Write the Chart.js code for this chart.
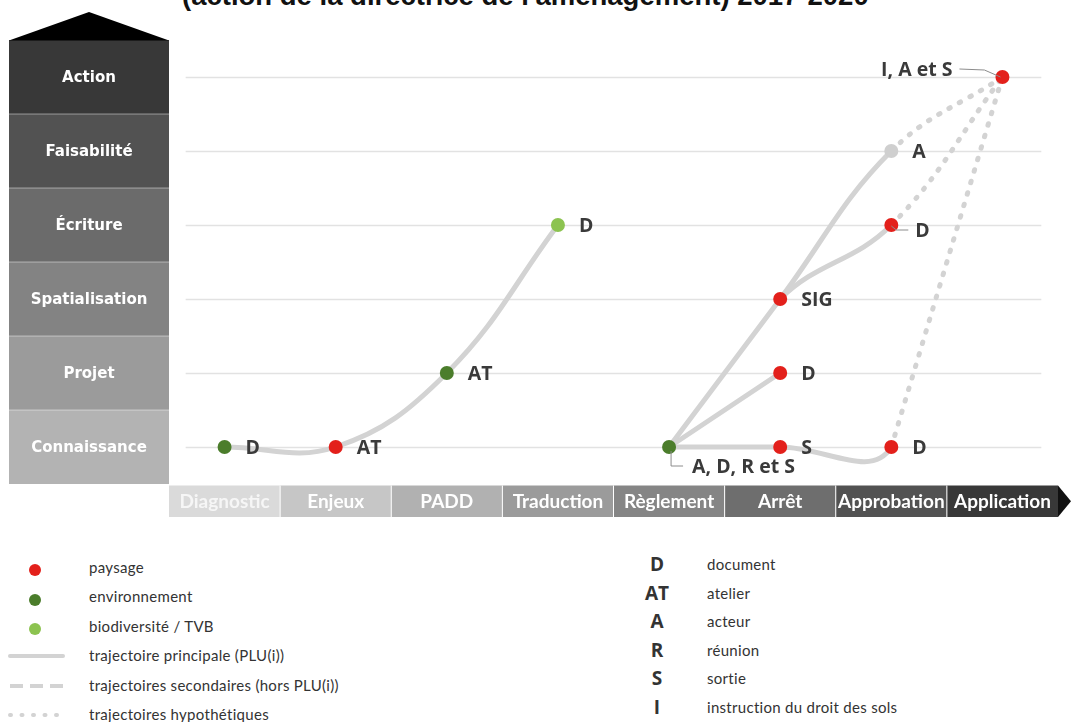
<!DOCTYPE html>
<html lang="fr">
<head>
<meta charset="utf-8">
<title>Trajectoires</title>
<script src="https://cdn.jsdelivr.net/npm/chart.js@4.4.1/dist/chart.umd.min.js"></script>
<style>
  html, body { margin: 0; padding: 0; background: #fff; }
  body { position: relative; width: 1071px; height: 722px; overflow: hidden; }
  #title { position: absolute; left: 182px; top: -18px; margin: 0; font: bold 27.5px/27.5px "Liberation Sans", Arial, sans-serif; color: #111; white-space: nowrap; }
  #chart-box { position: absolute; left: 0; top: 0; width: 1071px; height: 530px; }
  .row { position: absolute; height: 20px; font: 15px/20px Lato, sans-serif; letter-spacing: 0.3px; color: #333; white-space: nowrap; }
  .code { position: absolute; width: 40px; height: 20px; text-align: center; font: bold 19px/20px "Open Sans", sans-serif; color: #333; }
  .mark { position: absolute; }
</style>
</head>
<body>
<h1 id="title">(action de la directrice de l'aménagement) 2017-2020</h1>
<div id="chart-box"><canvas id="chart" width="1071" height="530"></canvas></div>
<div id="legend"></div>
<script>
const stages = ['Diagnostic', 'Enjeux', 'PADD', 'Traduction', 'Règlement', 'Arrêt', 'Approbation', 'Application'];
const levels = ['Connaissance', 'Projet', 'Spatialisation', 'Écriture', 'Faisabilité', 'Action'];

// jalons : étape (index dans stages), niveau (index dans levels), thème, sigle
const pointStage = [0, 1, 2, 3, 4, 5, 5, 5, 6, 6, 6, 7];
const pointLevel = [0, 0, 1, 3, 0, 0, 1, 2, 0, 3, 4, 5];
const pointTheme = ['environnement', 'paysage', 'environnement', 'biodiversité / TVB', 'environnement',
    'paysage', 'paysage', 'paysage', 'paysage', 'paysage', 'autre', 'paysage'];
const pointCode = ['D', 'AT', 'AT', 'D', 'A, D, R et S', 'S', 'D', 'SIG', 'D', 'D', 'A', 'I, A et S'];

// trajectoires : suites de jalons (index ci-dessus)
const trajPrincipale = [0, 1, 2, 3];
const trajSortie = [4, 5, 8, 11];
const trajProjet = [4, 6];
const trajActeur = [4, 7, 10, 11];
const trajDocument = [4, 7, 9, 11];

// légende
const themes = ['paysage', 'environnement', 'biodiversité / TVB'];
const trajKinds = ['trajectoire principale (PLU(i))', 'trajectoires secondaires (hors PLU(i))', 'trajectoires hypothétiques'];
const codes = ['D', 'AT', 'A', 'R', 'S', 'I'];
const codeMeanings = ['document', 'atelier', 'acteur', 'réunion', 'sortie', 'instruction du droit des sols'];

// styles
const themeColor = {
    'paysage': '#e3201b',
    'environnement': '#4b7d2b',
    'biodiversité / TVB': '#8cc350',
    'autre': '#cfcfcf'
};
const stageColors = ['#dadada', '#c6c6c6', '#b1b1b1', '#9b9b9b', '#858585', '#6e6e6e', '#525252', '#383838'];
const levelColors = ['#b3b3b3', '#9b9b9b', '#838383', '#6b6b6b', '#525252', '#383838'];
const trailColor = '#d3d3d3';
const dots = [1.5, 10.5];
const hidden = 'rgba(0,0,0,0)';

const isHypo = (a, b) => pointStage[b] === stages.length - 1;

function trajectory(path, opts = {}) {
    const {hideFirst = false, hideHypo = false, tension = 0.4} = opts;
    return {
        data: path.map(i => ({x: pointStage[i], y: pointLevel[i]})),
        borderColor: trailColor,
        borderWidth: 5,
        borderCapStyle: 'round',
        borderJoinStyle: 'round',
        pointRadius: 0,
        pointHoverRadius: 0,
        tension: tension,
        fill: false,
        order: 2,
        segment: {
            borderDash: ctx => isHypo(path[ctx.p0DataIndex], path[ctx.p1DataIndex]) ? dots : undefined,
            borderColor: ctx => {
                if (hideFirst && ctx.p0DataIndex === 0) return hidden;
                if (hideHypo && isHypo(path[ctx.p0DataIndex], path[ctx.p1DataIndex])) return hidden;
                return undefined;
            }
        }
    };
}

const framePlugin = {
    id: 'frame',
    beforeDatasetsDraw(chart) {
        const {ctx, scales: {x, y}} = chart;
        ctx.save();

        // grille horizontale
        ctx.strokeStyle = '#e2e2e2';
        ctx.lineWidth = 1.5;
        levels.forEach((name, i) => {
            const py = Math.round(y.getPixelForValue(i)) + 0.5;
            ctx.beginPath();
            ctx.moveTo(x.getPixelForValue(-0.35), py);
            ctx.lineTo(x.getPixelForValue(stages.length - 0.65), py);
            ctx.stroke();
        });

        // niveaux
        const cx = (y.left + y.right) / 2;
        ctx.textAlign = 'center';
        ctx.textBaseline = 'middle';
        ctx.font = 'bold 15px "DejaVu Sans", sans-serif';
        levels.forEach((name, i) => {
            const top = y.getPixelForValue(i + 0.5);
            const bottom = y.getPixelForValue(i - 0.5);
            ctx.fillStyle = levelColors[i];
            ctx.fillRect(y.left, top, y.right - y.left, bottom - top);
            if (i > 0) {
                ctx.fillStyle = 'rgba(255,255,255,0.45)';
                ctx.fillRect(y.left, bottom - 0.5, y.right - y.left, 1);
            }
            ctx.fillStyle = '#fff';
            ctx.fillText(name, cx, (top + bottom) / 2 + 1);
        });
        const roofBase = y.getPixelForValue(levels.length - 0.5);
        ctx.fillStyle = '#000';
        ctx.beginPath();
        ctx.moveTo(y.left, roofBase + 0.5);
        ctx.lineTo(cx, roofBase - 28);
        ctx.lineTo(y.right, roofBase + 0.5);
        ctx.closePath();
        ctx.fill();

        // étapes
        const top = x.top + 1.5;
        const bottom = x.bottom;
        ctx.font = 'bold 19px Lato, sans-serif';
        stages.forEach((name, i) => {
            const l = x.getPixelForValue(i - 0.5);
            const r = x.getPixelForValue(i + 0.5);
            ctx.fillStyle = stageColors[i];
            ctx.fillRect(l, top, r - l, bottom - top);
            if (i > 0) {
                ctx.fillStyle = '#fff';
                ctx.fillRect(l - 0.5, top, 1, bottom - top);
            }
            ctx.fillStyle = i === 0 ? '#f6f6f6' : '#fff';
            ctx.fillText(name, (l + r) / 2, (top + bottom) / 2 + 1, r - l - 4);
        });
        const end = x.getPixelForValue(stages.length - 0.5);
        ctx.fillStyle = '#111';
        ctx.beginPath();
        ctx.moveTo(end, top);
        ctx.lineTo(end + 13, (top + bottom) / 2);
        ctx.lineTo(end, bottom);
        ctx.closePath();
        ctx.fill();

        ctx.restore();
    }
};

// placement des sigles : à droite par défaut
const codePlacement = ['right', 'right', 'right', 'right', 'below', 'right', 'right', 'right', 'right', 'leader', 'right', 'left'];

const codePlugin = {
    id: 'codes',
    afterDatasetsDraw(chart) {
        const ctx = chart.ctx;
        const meta = chart.getDatasetMeta(0);
        ctx.save();
        ctx.font = 'bold 19.5px "Open Sans", sans-serif';
        ctx.fillStyle = '#3a3a3a';
        ctx.strokeStyle = '#8c8c8c';
        ctx.lineWidth = 1;
        ctx.textBaseline = 'middle';
        meta.data.forEach((pt, i) => {
            const px = pt.x, py = pt.y;
            const text = pointCode[i];
            ctx.textAlign = 'left';
            if (codePlacement[i] === 'below') {
                ctx.beginPath();
                ctx.moveTo(px + 2, py + 4);
                ctx.lineTo(px + 2, py + 19);
                ctx.lineTo(px + 14, py + 19);
                ctx.stroke();
                ctx.fillText(text, px + 23, py + 20);
            } else if (codePlacement[i] === 'leader') {
                ctx.beginPath();
                ctx.moveTo(px, py + 1);
                ctx.lineTo(px + 5, py + 5);
                ctx.lineTo(px + 17, py + 5);
                ctx.stroke();
                ctx.fillText(text, px + 24, py + 6);
            } else if (codePlacement[i] === 'left') {
                ctx.beginPath();
                ctx.moveTo(px - 2, py);
                ctx.lineTo(px - 18, py - 7);
                ctx.lineTo(px - 43, py - 8);
                ctx.stroke();
                ctx.textAlign = 'right';
                ctx.fillText(text, px - 50, py - 7);
            } else {
                ctx.fillText(text, px + 21, py + 1.5);
            }
        });
        ctx.restore();
    }
};

new Chart(document.getElementById('chart'), {
    type: 'line',
    data: {
        datasets: [
            {
                data: pointStage.map((s, i) => ({x: s, y: pointLevel[i]})),
                showLine: false,
                pointRadius: 7,
                pointHoverRadius: 7,
                pointBorderWidth: 0,
                pointBackgroundColor: pointTheme.map(t => themeColor[t]),
                order: 0
            },
            trajectory(trajPrincipale),
            trajectory(trajSortie, {hideHypo: true}),
            trajectory([trajSortie[2], trajSortie[3]], {tension: 0}),
            trajectory(trajProjet),
            trajectory(trajActeur),
            trajectory(trajDocument, {hideFirst: true})
        ]
    },
    options: {
        responsive: false,
        maintainAspectRatio: false,
        devicePixelRatio: 1,
        animation: false,
        events: [],
        layout: {
            padding: {left: 9, right: 13, top: 40, bottom: 13}
        },
        scales: {
            x: {
                type: 'linear',
                min: -0.5,
                max: stages.length - 0.5,
                grid: {display: false, drawTicks: false},
                border: {display: false},
                ticks: {display: false},
                afterFit: (scale) => { scale.height = 33; }
            },
            y: {
                type: 'linear',
                min: -0.5,
                max: levels.length - 0.5,
                grid: {display: false, drawTicks: false},
                border: {display: false},
                ticks: {display: false},
                afterFit: (scale) => { scale.width = 160; }
            }
        },
        plugins: {
            legend: {display: false},
            tooltip: {enabled: false}
        }
    },
    plugins: [framePlugin, codePlugin]
});

// légende HTML
const legend = document.getElementById('legend');

function addRow(text, left, centerY) {
    const el = document.createElement('div');
    el.className = 'row';
    el.style.left = left + 'px';
    el.style.top = (centerY - 10) + 'px';
    el.textContent = text;
    legend.appendChild(el);
}

themes.forEach((t, i) => {
    const cy = 566.5 + i * 29.5;
    const dot = document.createElement('div');
    dot.className = 'mark';
    dot.style.cssText = `left:29px;top:${cy - 2.5}px;width:12px;height:12px;border-radius:50%;background:${themeColor[t]}`;
    legend.appendChild(dot);
    addRow(t, 89, cy);
});

const dashStyles = ['', '13 7', '1 10.5'];
trajKinds.forEach((k, i) => {
    const cy = 655 + i * 29.5;
    const svg = `<svg width="60" height="10" style="position:absolute;left:6px;top:${cy - 4}px">
        <line x1="4" y1="5" x2="57" y2="5" stroke="${trailColor}" stroke-width="4"
        stroke-linecap="${i === 1 ? 'butt' : 'round'}" ${dashStyles[i] ? `stroke-dasharray="${dashStyles[i]}"` : ''}/></svg>`;
    legend.insertAdjacentHTML('beforeend', svg);
    addRow(k, 89, cy);
});

codes.forEach((c, i) => {
    const cy = 564 + i * 28.6;
    const el = document.createElement('div');
    el.className = 'code';
    el.style.left = '637px';
    el.style.top = (cy - 10) + 'px';
    el.textContent = c;
    legend.appendChild(el);
    addRow(codeMeanings[i], 707, cy);
});
</script>
</body>
</html>
